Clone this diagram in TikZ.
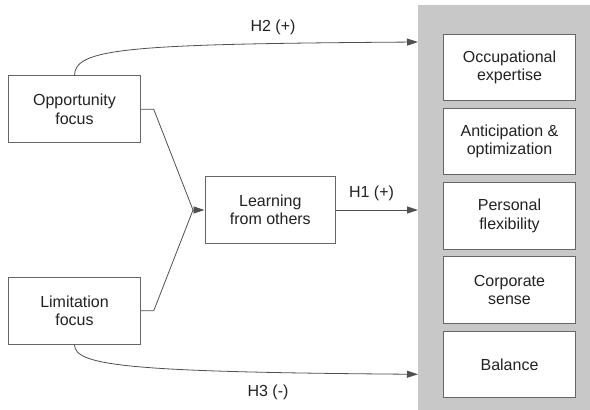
\documentclass[tikz,border=0pt]{standalone}
\usepackage{fontspec}
\setmainfont{Liberation Sans}
\usetikzlibrary{arrows.meta}

\definecolor{panelgray}{HTML}{C8C8C8}
\definecolor{boxgray}{HTML}{666666}
\definecolor{linegray}{HTML}{505050}
\definecolor{textgray}{HTML}{222222}

\tikzset{
  box/.style={draw=boxgray, fill=white, line width=0.9pt, align=center,
    minimum width=131.6pt, minimum height=66.8pt, inner sep=0pt,
    text=textgray, font=\fontsize{16}{18.5}\selectfont},
  link/.style={draw=linegray, line width=0.8pt},
  arrow/.style={link, -{Triangle[length=11pt, width=7pt]}},
  hlabel/.style={text=textgray, font=\fontsize{16}{18.5}\selectfont}
}

\begin{document}
\begin{tikzpicture}[x=1pt, y=-1pt]
  \useasboundingbox (0,0) rectangle (590,410);

  % grey outcome panel
  \node[fill=panelgray, inner sep=0pt, minimum width=172pt, minimum height=405pt,
        anchor=north west] (panel) at (418,5) {};

  % predictors and mediator
  \node[box] (opp) at (74.5,109.3) {Opportunity\\focus};
  \node[box] (lim) at (74.5,310.8) {Limitation\\focus};
  \node[box, minimum width=130.7pt, minimum height=66.6pt] (learn) at (270.3,210)
    {Learning\\from others};

  % outcome boxes
  \foreach \name/\ypos/\txt in {occ/67.3/Occupational\\expertise,
                                ant/141.3/Anticipation \&\\optimization,
                                per/216/Personal\\flexibility,
                                cor/290/Corporate\\sense,
                                bal/364.5/Balance}
    \node[box, minimum height=66.5pt] (\name) at (509.5,\ypos) {\txt};

  % paths into the mediator
  \coordinate (join) at (193,210);
  \draw[link] (opp.east) -- ++(13,0) -- (join);
  \draw[link] (lim.east) -- ++(13,0) -- (join);
  \draw[arrow] (join) -- (learn.west);

  % H1
  \coordinate (h1end) at (learn.east -| panel.west);
  \draw[arrow] (learn.east) -- (h1end);
  \node[hlabel] (h1) at (371.5,193) {H1 (+)};

  % H2
  \coordinate (h2end) at (418,42);
  \draw[arrow] (opp.north) .. controls (74.5,48) and (130,44) .. (h2end);
  \node[hlabel] (h2) at (273,27) {H2 (+)};

  % H3
  \coordinate (h3end) at (418,374.3);
  \draw[arrow] (lim.south) .. controls (74.5,366) and (130,372) .. (h3end);
  \node[hlabel] (h3) at (268,392.5) {H3 (-)};
\end{tikzpicture}
\end{document}
